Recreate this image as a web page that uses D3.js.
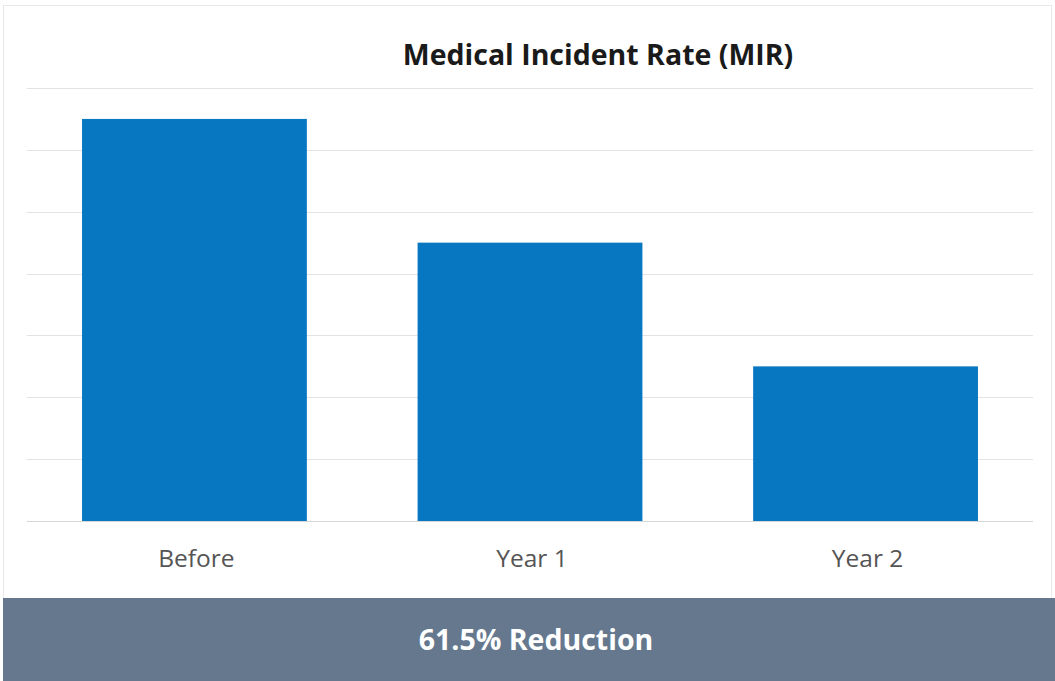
<!DOCTYPE html>
<html>
<head>
<meta charset="utf-8">
<script src="https://cdn.jsdelivr.net/npm/d3@7"></script>
<style>
  body { margin: 0; background: #fff; }
  text { font-family: 'Open Sans', sans-serif; }
</style>
</head>
<body>
<div id="chart"></div>
<script>
const W = 1055;
const H = 681;

const categories = ['Before', 'Year 1', 'Year 2'];
const mirValues = [6.5, 4.5, 2.5];
const gridTicks = [0, 1, 2, 3, 4, 5, 6, 7];
const title = 'Medical Incident Rate (MIR)';
const bannerText = '61.5% Reduction';

const svg = d3.select('#chart').append('svg').attr('width', W).attr('height', H);

// card outline
svg
  .append('rect')
  .attr('x', 3.5)
  .attr('y', 5.5)
  .attr('width', 1048)
  .attr('height', 640)
  .attr('fill', '#fff')
  .attr('stroke', '#e8e8e8');

const x = d3.scaleBand().domain(categories).range([27, 1033]).paddingInner(0.33).paddingOuter(0.164);
const y = d3.scaleLinear().domain([0, 7]).range([521, 88]);

// gridlines
svg
  .append('g')
  .selectAll('line')
  .data(gridTicks)
  .join('line')
  .attr('x1', 27)
  .attr('x2', 1033)
  .attr('y1', (d) => Math.round(y(d)) + 0.5)
  .attr('y2', (d) => Math.round(y(d)) + 0.5)
  .attr('stroke', (d) => (d === 0 ? '#d6d6d6' : '#e3e3e3'))
  .attr('stroke-width', 1.2);

// bars
svg
  .append('g')
  .selectAll('rect')
  .data(mirValues)
  .join('rect')
  .attr('x', (d, i) => x(categories[i]))
  .attr('y', (d) => y(d))
  .attr('width', x.bandwidth())
  .attr('height', (d) => y(0) - y(d))
  .attr('fill', '#0877c1');

// category labels
svg
  .append('g')
  .selectAll('text')
  .data(categories)
  .join('text')
  .attr('x', (d) => x(d) + x.bandwidth() / 2 + 2)
  .attr('y', 567)
  .attr('text-anchor', 'middle')
  .attr('fill', '#555')
  .style('font-size', '24.5px')
  .text((d) => d);

svg
  .append('text')
  .attr('x', 598)
  .attr('y', 65)
  .attr('text-anchor', 'middle')
  .attr('fill', '#1a1a1a')
  .style('font-size', '28.5px')
  .style('font-weight', 'bold')
  .text(title);

// bottom banner
svg.append('rect').attr('x', 3).attr('y', 598).attr('width', W - 3).attr('height', H - 598).attr('fill', '#65788e');

svg
  .append('text')
  .attr('x', 536)
  .attr('y', 650)
  .attr('text-anchor', 'middle')
  .attr('fill', '#fff')
  .style('font-size', '28.5px')
  .style('font-weight', 'bold')
  .text(bannerText);
</script>
</body>
</html>
